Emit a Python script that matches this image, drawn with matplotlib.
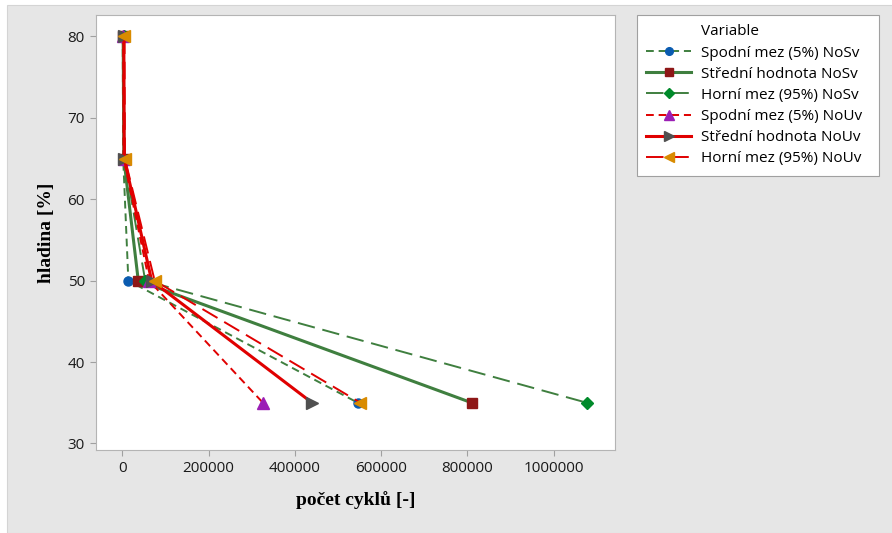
import matplotlib.pyplot as plt
from matplotlib.lines import Line2D
from matplotlib.patches import Rectangle

# hladina [%]
levels = [80, 65, 50, 35]

# pocet cyklu for each series
spodni_nosv = [1000, 2000, 14000, 546000]
stredni_nosv = [2000, 3500, 37000, 810000]
horni_nosv = [3000, 5000, 53000, 1077000]
spodni_nouv = [2500, 3000, 62000, 326000]
stredni_nouv = [3500, 4500, 68000, 440000]
horni_nouv = [5000, 6000, 75000, 552000]

labels = ["Spodní mez (5%) NoSv", "Střední hodnota NoSv", "Horní mez (95%) NoSv",
          "Spodní mez (5%) NoUv", "Střední hodnota NoUv", "Horní mez (95%) NoUv"]

xticks = [0, 200000, 400000, 600000, 800000, 1000000]
yticks = [30, 40, 50, 60, 70, 80]

green = "#3f7f3f"
red = "#e00000"

sans = ["Open Sans", "DejaVu Sans"]
serif = ["Liberation Serif", "DejaVu Serif"]

fig = plt.figure(figsize=(8.92, 5.33), dpi=100, facecolor="white")
fig.patches.append(Rectangle((7 / 892, 0), 1, (533 - 5) / 533, transform=fig.transFigure,
                             facecolor="#e6e6e6", edgecolor="#d4d4d4", lw=0.8, zorder=-10))

ax = fig.add_axes([96 / 892, 1 - 450 / 533, (615 - 96) / 892, (450 - 15) / 533])
ax.set_facecolor("white")

styles = [
    dict(color=green, ls=(0, (4, 2.5)), lw=1.4, marker="o", mfc="#0a5bb0", mec="#0a5bb0", ms=6.5),
    dict(color=green, ls="-", lw=2.2, marker="s", mfc="#8e1717", mec="#8e1717", ms=7),
    dict(color=green, ls=(0, (9, 4)), lw=1.4, marker="D", mfc="#008a2a", mec="#008a2a", ms=6.5),
    dict(color=red, ls=(0, (4, 2.5)), lw=1.4, marker="^", mfc="#9b1fb5", mec="#9b1fb5", ms=8),
    dict(color=red, ls="-", lw=2.2, marker=">", mfc="#505050", mec="#505050", ms=8),
    dict(color=red, ls=(0, (9, 4)), lw=1.4, marker="<", mfc="#d98b00", mec="#d98b00", ms=8),
]
series = [spodni_nosv, stredni_nosv, horni_nosv, spodni_nouv, stredni_nouv, horni_nouv]

handles = [Line2D([], [], color="none", label="Variable")]
for vals, st, lab in zip(series, styles, labels):
    h, = ax.plot(vals, levels, label=lab, **st)
    handles.append(h)

ax.set_xlim(-61000, 1142000)
ax.set_ylim(29.2, 82.64)
ax.set_xticks(xticks)
ax.set_yticks(yticks)
ax.set_xticklabels([str(v) for v in xticks], family=sans, fontsize=11, color="#1a1a1a")
ax.set_yticklabels([str(v) for v in yticks], family=sans, fontsize=11, color="#1a1a1a")
ax.tick_params(direction="out", length=4, color="#a0a0a0", pad=4)
for s in ax.spines.values():
    s.set_color("#b4b4b4")

ax.set_xlabel("počet cyklů [-]", family=serif, fontweight="bold", fontsize=14, labelpad=11)
ax.set_ylabel("hladina [%]", family=serif, fontweight="bold", fontsize=14, labelpad=9)

leg = fig.legend(handles=handles, loc="upper left", mode="expand",
                 bbox_to_anchor=(637 / 892, 1 - 172 / 533, 242 / 892, 157 / 533),
                 prop=dict(family=sans, size=11), frameon=True, fancybox=False,
                 framealpha=1, facecolor="white", markerscale=0.85,
                 handlelength=2.9, handletextpad=0.7, labelspacing=0.4,
                 borderpad=0.62, borderaxespad=0)
leg.get_frame().set_edgecolor("#a0a0a0")
leg.get_frame().set_linewidth(0.8)

fig.savefig("out.png", dpi=100, facecolor=fig.get_facecolor())
